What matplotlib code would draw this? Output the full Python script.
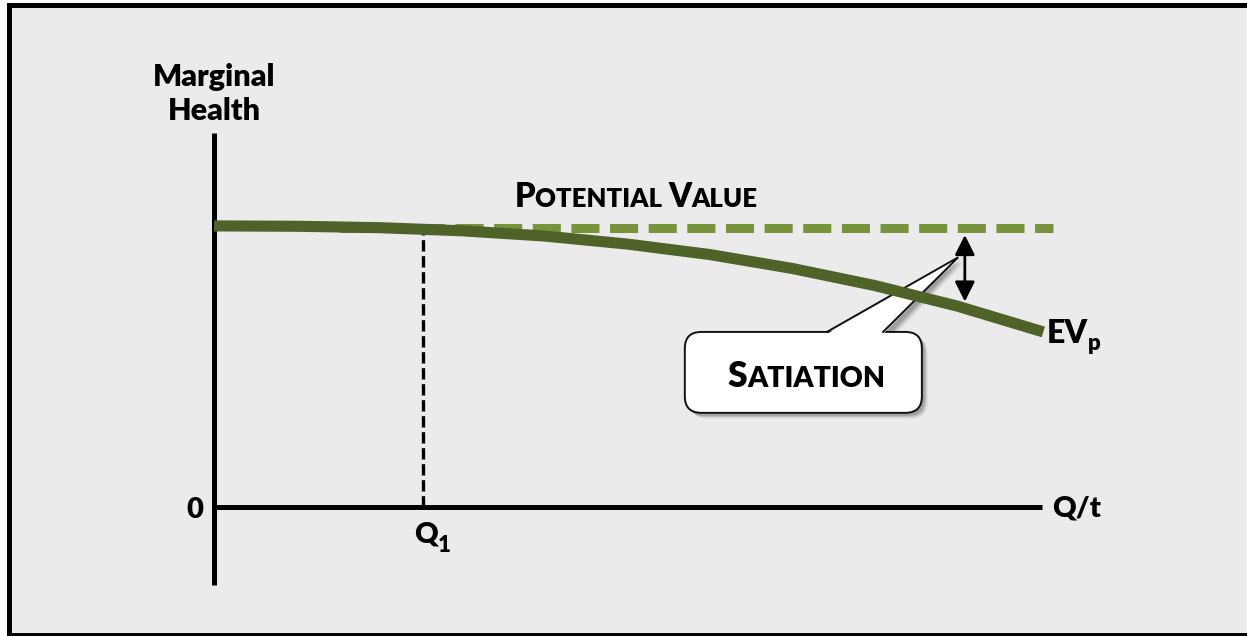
import matplotlib
matplotlib.use("Agg")
import matplotlib.pyplot as plt
from matplotlib.patches import Rectangle, FancyBboxPatch, Polygon, FancyArrowPatch

# ---------------- data ----------------
ev_q = [0, 1, 2, 3, 4, 5, 6, 7, 8, 9, 10.04]
ev_v = [8.06, 8.05, 8.01, 7.92, 7.77, 7.54, 7.24, 6.84, 6.35, 5.76, 5.02]
potential_value = 8.0
potential_q = [1.5, 10.16]
q1 = 2.53
q1_value = 7.92
x_axis_end = 10.03
y_axis_range = [-2.24, 10.72]
gap_q = 9.09
gap_range = [7.80, 5.89]

labels = {
    "ylabel": ["Marginal", "Health"],
    "origin": "0",
    "xlabel": "Q/t",
    "q1": ("Q", "1"),
    "curve": ("EV", "p"),
}
potential_parts = [("P", True), ("OTENTIAL ", False), ("V", True), ("ALUE", False)]
callout_parts = [("S", True), ("ATIATION", False)]

# ---------------- style ----------------
BG = "#ebebeb"
DARK_GREEN = "#4f6228"
LIGHT_GREEN = "#77933c"
FONT = "Lato"
WEIGHT = "heavy"
W, H = 1247, 636

fig = plt.figure(figsize=(W / 100, H / 100), dpi=100)
fig.patch.set_facecolor("white")
fig.patches.append(Rectangle((8.5 / W, (H - 634.5) / H), 1.2, (634.5 - 4.5) / H,
                             transform=fig.transFigure, facecolor=BG,
                             edgecolor="black", linewidth=3.6, zorder=-10))

ax = fig.add_axes([0, 0, 1, 1])
ax.set_axis_off()
ax.patch.set_alpha(0)
ax.set_xlim(-214 / 82.6, (W - 214) / 82.6)
ax.set_ylim(-(H - 507) / 34.875, 507 / 34.875)
ASPECT = 82.6 / 34.875

# axes
ax.plot([0, 0], y_axis_range, color="black", lw=3.6, solid_capstyle="butt", zorder=3)
ax.plot([0, x_axis_end], [0, 0], color="black", lw=3.6, solid_capstyle="butt", zorder=3)

# potential value (dashed)
ax.plot(potential_q, [potential_value] * 2, color=LIGHT_GREEN, lw=6.5,
        linestyle=(4.16, (3.11, 1.17)), dash_capstyle="butt", zorder=2)

# Q1 drop line
ax.plot([q1, q1], [0, q1_value], color="black", lw=2.4,
        linestyle=(0, (3.4, 1.4)), dash_capstyle="butt", zorder=1)

# EVp curve
ax.plot(ev_q, ev_v, color=DARK_GREEN, lw=8, solid_capstyle="butt",
        solid_joinstyle="round", zorder=6)

# satiation gap arrow
ax.add_patch(FancyArrowPatch((gap_q, gap_range[0]), (gap_q, gap_range[1]),
                             arrowstyle="<|-|>,head_length=1.0,head_width=0.5",
                             mutation_scale=12, color="black", lw=2.0,
                             shrinkA=0, shrinkB=0, zorder=7))

# callout box
bx0, bx1, by0, by1 = 5.70, 8.57, 2.70, 5.02
tail_base = (7.42, 8.10)
tail_tip = (9.01, 7.16)
for dx, dy, a in [(0.07, -0.16, 0.18), (0.05, -0.12, 0.3), (0.035, -0.085, 0.45)]:
    ax.add_patch(FancyBboxPatch((bx0 + dx, by0 + dy), bx1 - bx0, by1 - by0,
                                boxstyle="round,pad=0,rounding_size=0.2",
                                mutation_aspect=ASPECT, facecolor="#808080",
                                edgecolor="none", alpha=a, zorder=4))
    ax.add_patch(Polygon([(tail_base[0] + dx, by1 + dy - 0.1), (tail_tip[0] + dx, tail_tip[1] + dy),
                          (tail_base[1] + dx, by1 + dy - 0.1)], closed=True,
                         facecolor="#808080", edgecolor="none", alpha=a, zorder=4))
ax.add_patch(FancyBboxPatch((bx0, by0), bx1 - bx0, by1 - by0,
                            boxstyle="round,pad=0,rounding_size=0.2",
                            mutation_aspect=ASPECT, facecolor="white",
                            edgecolor="#111111", lw=1.4, zorder=5))
ax.add_patch(Polygon([(tail_base[0], by1 - 0.06), tail_tip, (tail_base[1], by1 - 0.06)],
                     closed=True, facecolor="white", edgecolor="none", zorder=5.5))
ax.plot([tail_base[0], tail_tip[0], tail_base[1]], [by1, tail_tip[1], by1],
        color="#111111", lw=1.4, solid_joinstyle="miter", zorder=5.6)


def chain(x, y, parts, big, small, zorder=8):
    prev = None
    for s, isbig in parts:
        size = big if isbig else small
        if prev is None:
            t = ax.text(x, y, s, fontsize=size, ha="left", va="baseline",
                        family=FONT, weight=WEIGHT, zorder=zorder)
        else:
            t = ax.annotate(s, xy=(1, y), xycoords=(prev, "data"),
                            xytext=(0, 0), textcoords="offset points",
                            fontsize=size, ha="left", va="baseline",
                            family=FONT, weight=WEIGHT, zorder=zorder)
        prev = t
    return prev


chain(3.64, 8.60, potential_parts, 23.5, 18.5)
chain(6.22, 3.44, callout_parts, 25.5, 20.5)

# axis labels
txt = dict(family=FONT, weight=WEIGHT, color="black", zorder=8)
ax.text(0, 12.07, labels["ylabel"][0], fontsize=22, ha="center", va="baseline", **txt)
ax.text(0, 11.10, labels["ylabel"][1], fontsize=22, ha="center", va="baseline", **txt)
ax.text(-0.13, -0.32, labels["origin"], fontsize=21, ha="right", va="baseline", **txt)
ax.text(10.15, -0.28, labels["xlabel"], fontsize=21, ha="left", va="baseline", **txt)

qt = ax.text(q1 + 0.04, -1.03, labels["q1"][0], fontsize=21, ha="center", va="baseline", **txt)
ax.annotate(labels["q1"][1], xy=(1, -1.28), xycoords=(qt, "data"), fontsize=16,
            ha="left", va="baseline", **txt)
ev = ax.text(10.08, 4.69, labels["curve"][0], fontsize=23, ha="left", va="baseline", **txt)
ax.annotate(labels["curve"][1], xy=(1, 4.50), xycoords=(ev, "data"), fontsize=16,
            ha="left", va="baseline", **txt)

fig.savefig("out.png", dpi=100, facecolor=fig.get_facecolor())
